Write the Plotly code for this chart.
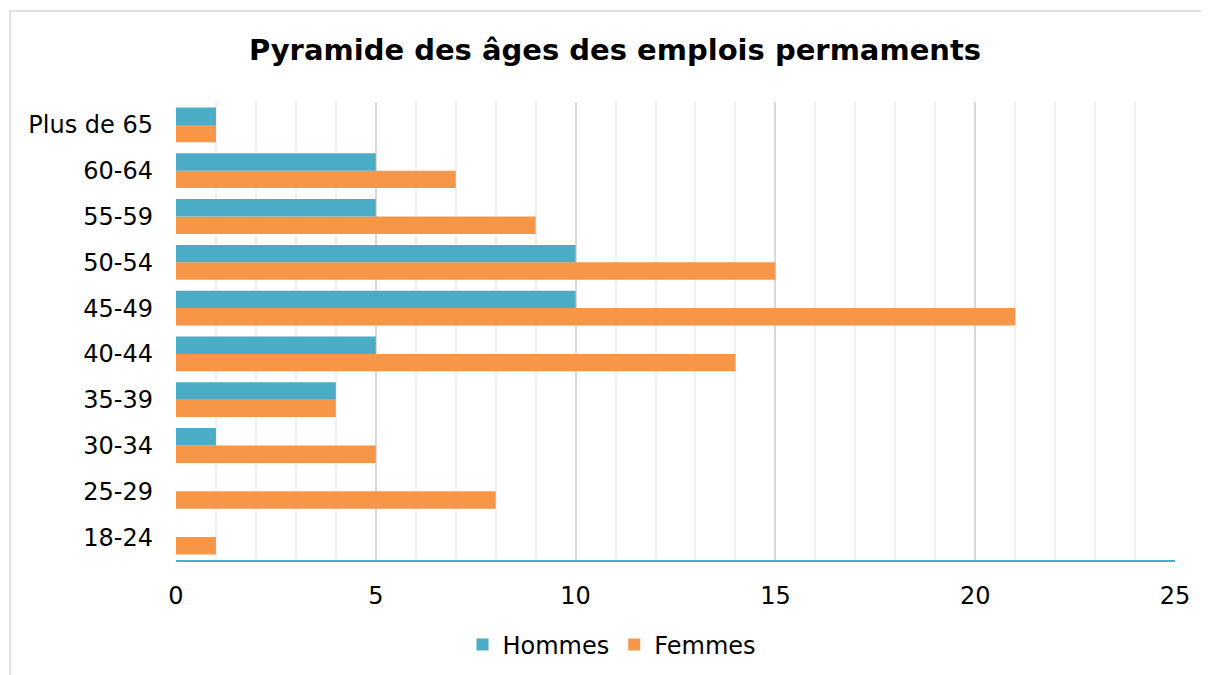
import plotly.graph_objects as go

categories = ["18-24", "25-29", "30-34", "35-39", "40-44", "45-49", "50-54", "55-59", "60-64", "Plus de 65"]
hommes = [0, 0, 1, 4, 5, 10, 10, 5, 5, 1]
femmes = [1, 8, 5, 4, 14, 21, 15, 9, 7, 1]
x_ticks = [0, 5, 10, 15, 20, 25]

# page body has an 8px margin: work in page coords, shift by OFF
OFF = 8
W, H = 1209 - OFF, 675 - OFF
PL, PR, PT, PB = 176, 1175, 102, 560          # plot area in page pixels
L, T = PL - OFF, PT - OFF
R = W - (PR - OFF)
B = H - (PB - OFF)
pw, ph = PR - PL, PB - PT

fig = go.Figure()
fig.add_trace(go.Bar(y=categories, x=femmes, orientation="h", name="Femmes",
                     marker=dict(color="#F79646", line=dict(width=0))))
fig.add_trace(go.Bar(y=categories, x=hommes, orientation="h", name="Hommes",
                     marker=dict(color="#4BACC6", line=dict(width=0))))

FONT = "DejaVu Sans"
fig.update_layout(
    width=W, height=H,
    margin=dict(l=L, r=R, t=T, b=B),
    paper_bgcolor="white", plot_bgcolor="white",
    font=dict(family=FONT, size=24, color="#000000"),
    barmode="group", bargap=0.24, bargroupgap=0,
    title=dict(text="<b>Pyramide des âges des emplois permaments</b>",
               x=(615 - OFF) / W, xref="container", xanchor="center",
               y=1 - (50 - OFF) / H, yref="container", yanchor="middle",
               font=dict(family=FONT, size=29, color="#000000")),
    legend=dict(orientation="h", traceorder="reversed",
                x=(612 - OFF) / W, xref="container", xanchor="center",
                y=1 - (645 - OFF) / H, yref="container", yanchor="middle",
                font=dict(family=FONT, size=24), itemwidth=30,
                itemclick=False),
    showlegend=True,
    shapes=[dict(type="rect", xref="paper", yref="paper",
                 x0=(10 - PL) / pw, x1=(1230 - PL) / pw,
                 y0=(PB - 700) / ph, y1=(PB - 11) / ph,
                 line=dict(color="#D9D9D9", width=1.5), fillcolor="rgba(0,0,0,0)",
                 layer="below")],
)
fig.update_xaxes(range=[0, 25], tickvals=x_ticks, showgrid=True, gridcolor="#D9D9D9",
                 gridwidth=1.5, zeroline=False, showline=True, linecolor="#4BACC6",
                 linewidth=2, ticks="", ticklabelstandoff=13,
                 minor=dict(dtick=1, showgrid=True, gridcolor="#F0F0F0", gridwidth=1.5),
                 tickfont=dict(size=24), fixedrange=True)
fig.update_yaxes(showgrid=False, zeroline=False, showline=False, ticks="",
                 ticklabelstandoff=22, tickfont=dict(size=24), fixedrange=True)

fig.write_html("out.html")
